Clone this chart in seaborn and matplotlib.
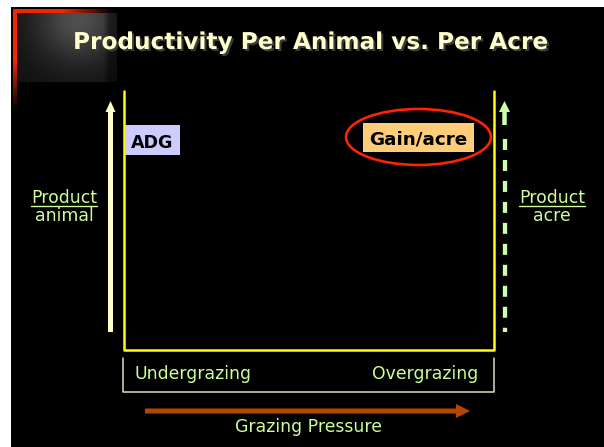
import numpy as np
import pandas as pd
import matplotlib
matplotlib.use("Agg")
import matplotlib.pyplot as plt
import matplotlib.patheffects as pe
from matplotlib.patches import Rectangle, Ellipse
import seaborn as sns

# text content of the slide
title = "Productivity Per Animal vs. Per Acre"
box_labels = ["ADG", "Gain/acre"]
side_top = ["Product", "Product"]
side_bottom = ["animal", "acre"]
range_labels = ["Undergrazing", "Overgrazing"]
axis_label = "Grazing Pressure"

# outline of the "U" frame and the bracket below it (pixel space of the slide)
frame_x = [124, 124, 494, 494]
frame_y = [91, 350, 350, 91]
bracket_x = [123, 123, 494, 494]
bracket_y = [358, 392, 392, 358]

sns.set_theme(style="dark")
plt.rcParams["font.family"] = ["DejaVu Sans"]
plt.rcParams["lines.scale_dashes"] = False

W, H = 604, 447
fig = plt.figure(figsize=(W / 100, H / 100), dpi=100, facecolor="white")
ax = fig.add_axes([0, 0, 1, 1])
ax.set_facecolor("white")
ax.axis("off")

# black slide area
ax.add_patch(Rectangle((11, 7), W - 11, H - 7, fc="black", ec="none", zorder=0))

# top-left logo decoration: gray glow square and red corner strokes
yy, xx = np.mgrid[0:69, 0:99]
glow = 0.07 + 0.24 * np.exp(-((xx - 60) ** 2 + (yy - 6) ** 2) / (2 * 30.0 ** 2))
glow = glow * np.clip((99 - xx) / 14.0, 0.55, 1)
glow = np.dstack([glow, glow, glow])
ax.imshow(glow, extent=(18, 117, 82, 13), zorder=1, interpolation="bilinear")

fade_h = np.clip((112 - np.arange(99) - 13) / 50.0, 0, 1)
top_bar = np.zeros((1, 99, 3))
top_bar[0, :, 0] = 0.95 * fade_h
top_bar[0, :, 1] = 0.15 * fade_h
ax.imshow(top_bar, extent=(13, 112, 13, 9), aspect="auto", zorder=1, interpolation="bilinear")

fade_v = np.clip((110 - np.arange(101) - 9) / 50.0, 0, 1)
left_bar = np.zeros((101, 1, 3))
left_bar[:, 0, 0] = 0.95 * fade_v
left_bar[:, 0, 1] = 0.15 * fade_v
ax.imshow(left_bar, extent=(13, 17, 110, 9), aspect="auto", zorder=1, interpolation="bilinear")

# title
ax.text(310.5, 49, title, ha="center", va="baseline", fontsize=16.7, fontweight="bold",
        color="#FFFFCC", zorder=5,
        path_effects=[pe.SimplePatchShadow(offset=(1.5, -1.5), shadow_rgbFace="#3a3a3a", alpha=1),
                      pe.Normal()])

# yellow frame and bracket
frame = pd.DataFrame({"x": frame_x, "y": frame_y})
sns.lineplot(data=frame, x="x", y="y", sort=False, estimator=None, color="#FFFF00",
             linewidth=1.8, ax=ax, zorder=3)
bracket = pd.DataFrame({"x": bracket_x, "y": bracket_y})
sns.lineplot(data=bracket, x="x", y="y", sort=False, estimator=None, color="#DDDDC4",
             linewidth=1.1, ax=ax, zorder=3)

# vertical arrows
ax.arrow(110.5, 332, 0, -231, width=5, head_width=10, head_length=11,
         length_includes_head=True, color="#FFFFCC", lw=0, zorder=3)
ax.arrow(504.5, 125, 0, -24, width=4.5, head_width=11, head_length=11,
         length_includes_head=True, color="#CCFFAA", lw=0, zorder=3)
dash = pd.DataFrame({"x": [504.5, 504.5], "y": [139, 332]})
sns.lineplot(data=dash, x="x", y="y", sort=False, estimator=None, color="#CCFFAA",
             linewidth=3.1, ax=ax, zorder=3)
ax.lines[-1].set_dashes([7.9, 7.2])
ax.lines[-1].set_dash_capstyle("butt")

# horizontal grazing pressure arrow
ax.arrow(145, 411, 325, 0, width=5, head_width=14, head_length=14,
         length_includes_head=True, color="#B34700", lw=0, zorder=3)

# labelled boxes
ax.add_patch(Rectangle((125, 125), 55, 30, fc="#CCCCFF", ec="none", zorder=4))
ax.text(152.5, 148, box_labels[0], ha="center", va="baseline", fontsize=12.6,
        fontweight="bold", color="black", zorder=5)
ax.add_patch(Rectangle((363, 123), 111, 29, fc="#FFCC77", ec="none", zorder=4))
ax.text(418.5, 145, box_labels[1], ha="center", va="baseline", fontsize=13.2,
        fontweight="bold", color="black", zorder=5)
ax.add_patch(Ellipse((418.5, 137), 145, 56, fill=False, ec="#FF2200", lw=1.9, zorder=5))

ax.set_xlim(0, W)
ax.set_ylim(H, 0)

# side fractions
green = "#CCFF99"
fig.canvas.draw()
renderer = fig.canvas.get_renderer()
for cx, top, bottom in zip([64, 552], side_top, side_bottom):
    t = ax.text(cx, 203, top, ha="center", va="baseline", fontsize=12.4, color=green, zorder=5)
    ax.text(cx, 221, bottom, ha="center", va="baseline", fontsize=12.4, color=green, zorder=5)
    bb = t.get_window_extent(renderer).transformed(ax.transData.inverted())
    x0, x1 = sorted([bb.x0, bb.x1])
    ax.plot([x0, x1], [206, 206], color=green, lw=1.0, zorder=5)

# range labels and axis label
ax.text(135, 379, range_labels[0], ha="left", va="baseline", fontsize=12.4, color=green, zorder=5)
ax.text(478, 379, range_labels[1], ha="right", va="baseline", fontsize=12.4, color=green, zorder=5)
ax.text(308, 432, axis_label, ha="center", va="baseline", fontsize=12.4, color=green, zorder=5)

fig.savefig("out.png", dpi=100, facecolor="white")
